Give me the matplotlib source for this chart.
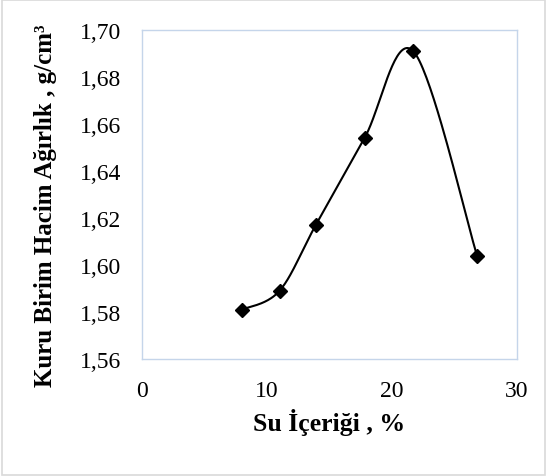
import matplotlib
matplotlib.use("Agg")
import matplotlib.pyplot as plt
import numpy as np
from matplotlib.ticker import FuncFormatter

# veri
su_icerigi = [8.0, 11.0, 13.9, 17.8, 21.7, 26.8]
kuru_birim = [1.581, 1.589, 1.617, 1.654, 1.691, 1.604]
x_ticks = [0, 10, 20, 30]
y_ticks = [1.56, 1.58, 1.60, 1.62, 1.64, 1.66, 1.68, 1.70]

KENAR = "#c5d5ea"


def excel_smooth(x, y, sx, sy, n=40):
    # Catmull-Rom -> Bezier, in scaled (screen-like) coordinates
    p = np.column_stack([np.asarray(x) * sx, np.asarray(y) * sy])
    out = []
    for i in range(len(p) - 1):
        p0 = p[i - 1] if i > 0 else p[i]
        p1, p2 = p[i], p[i + 1]
        p3 = p[i + 2] if i + 2 < len(p) else p[i + 1]
        c1 = p1 + (p2 - p0) / 6
        c2 = p2 - (p3 - p1) / 6
        t = np.linspace(0, 1, n)[:, None]
        seg = ((1 - t) ** 3 * p1 + 3 * (1 - t) ** 2 * t * c1
               + 3 * (1 - t) * t ** 2 * c2 + t ** 3 * p2)
        out.append(seg if i == 0 else seg[1:])
    pts = np.vstack(out)
    return pts[:, 0] / sx, pts[:, 1] / sy


plt.rcParams["font.family"] = ["Liberation Serif", "DejaVu Serif"]

fig = plt.figure(figsize=(5.47, 4.77), dpi=100)
ax = fig.add_axes([0.2596, 0.2453, 0.6856, 0.6897])

xlim = (0, 30)
ylim = (1.56, 1.70)
# piksel olcekleri (375 x 329 px cizim alani)
sx = 375 / (xlim[1] - xlim[0])
sy = 329 / (ylim[1] - ylim[0])
xs, ys = excel_smooth(su_icerigi, kuru_birim, sx, sy)
ax.plot(xs, ys, color="black", lw=1.5, zorder=2)
ax.plot(su_icerigi, kuru_birim, ls="none", marker="D", ms=7,
        color="black", zorder=3)

ax.set_xlim(*xlim)
ax.set_ylim(*ylim)
ax.set_xticks(x_ticks)
ax.set_yticks(y_ticks)
ax.yaxis.set_major_formatter(FuncFormatter(lambda v, p: f"{v:.2f}".replace(".", ",")))
ax.tick_params(length=0, labelsize=17)
ax.tick_params(axis="x", pad=15)
ax.tick_params(axis="y", pad=15)
for s in ax.spines.values():
    s.set_color(KENAR)
    s.set_linewidth(1.0)

ax.set_xlabel("Su İçeriği , %", fontsize=18.5, fontweight="bold")
ax.xaxis.set_label_coords(0.5, -0.149)
ax.set_ylabel("Kuru Birim Hacim Ağırlık , g/cm³", fontsize=18, fontweight="bold")
ax.yaxis.set_label_coords(-0.227, 0.468)

# dis cerceve
fig.patches.append(plt.Rectangle((0.003, 0.003), 0.994, 0.994,
                                 transform=fig.transFigure, fill=False,
                                 edgecolor="#d9d9d9", lw=1.2))

fig.savefig("out.png", dpi=100)
